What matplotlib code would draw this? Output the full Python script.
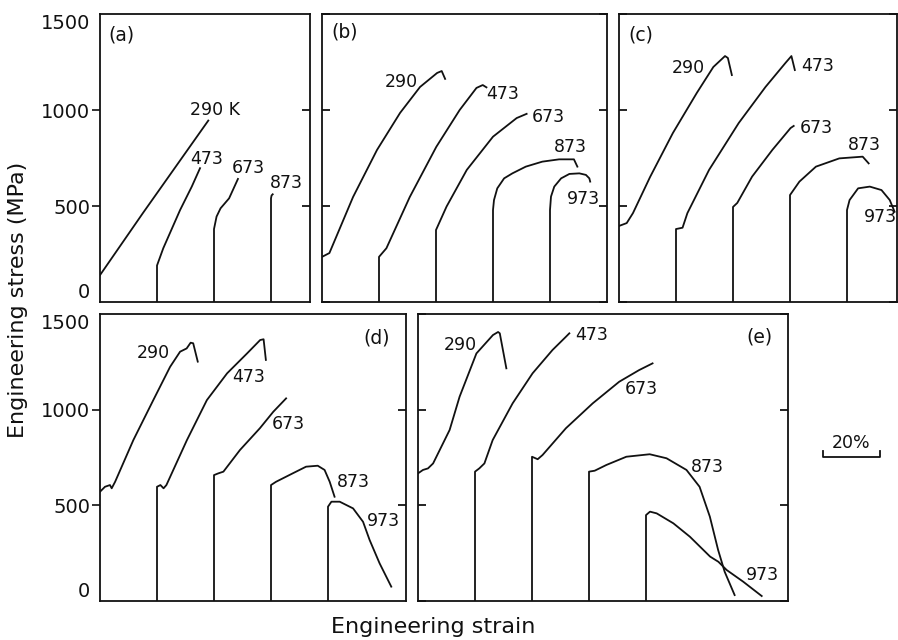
import numpy as np
import matplotlib.pyplot as plt

plt.rcParams['font.family'] = ['DejaVu Sans']

# stress-strain curves, strain in % measured from each curve's own origin,
# stress in MPa. Each curve is shifted by its offset (in % strain).
temps = ["290", "473", "673", "873", "973"]
offsets = [0, 20, 40, 60, 80]

a_strain = [[0, 15, 38],
            [0, 0, 2.2, 8.1, 12.2, 15.1],
            [0, 0, 0.9, 2.3, 5.3, 8.4],
            [0, 0, 0.2, 0.6]]
a_stress = [[140, 462, 945],
            [0, 190, 280, 479, 601, 697],
            [0, 380, 445, 488, 540, 641],
            [0, 540, 555, 561]]

b_strain = [[0, 2.6, 10.9, 19.3, 27.4, 34.4, 40.4, 42, 43.2],
            [0, 0, 2.6, 10.8, 20.1, 28.3, 34.2, 36.4, 37.7],
            [0, 0, 3.7, 10.8, 20, 28.3, 31.8],
            [0, 0, 0.35, 1.5, 3.9, 6.8, 11.5, 17.3, 23.2, 28.4, 29.6],
            [0, 0, 0.35, 1.5, 3.9, 6.8, 10.3, 12.6, 13.8, 14.1]]
b_stress = [[235, 255, 547, 792, 985, 1120, 1193, 1203, 1162],
            [0, 235, 280, 547, 808, 1000, 1115, 1130, 1118],
            [0, 375, 497, 688, 861, 958, 980],
            [0, 479, 531, 592, 644, 670, 705, 731, 743, 743, 705],
            [0, 479, 549, 601, 644, 667, 670, 662, 644, 627]]

c_strain = [[0, 2.7, 4.9, 10.9, 18.9, 27.3, 33.1, 37.2, 38.2, 39.6],
            [0, 0, 2.3, 4, 11.6, 22, 31.4, 38.4, 40.5, 41.7],
            [0, 0, 1.5, 6.7, 13.8, 20.2, 21.3],
            [0, 0, 3.3, 9.1, 17.3, 25.5, 27.6],
            [0, 0, 0.9, 3.9, 8, 12.1, 15, 16.7]]
c_stress = [[396, 411, 463, 651, 880, 1089, 1224, 1281, 1271, 1182],
            [0, 380, 387, 463, 688, 932, 1120, 1245, 1281, 1208],
            [0, 495, 516, 653, 792, 906, 917],
            [0, 557, 627, 705, 748, 757, 722],
            [0, 479, 531, 592, 601, 583, 531, 470]]

d_strain = [[0, 1.75, 3.5, 4.1, 5.3, 11.7, 18.7, 24.6, 28.1, 30.4, 31.8, 32.7, 34.3],
            [0, 0, 1.2, 2.3, 3.3, 10.5, 17.5, 24.6, 31.6, 36.2, 37.4, 38.2],
            [0, 0, 1.5, 3.3, 9.1, 16.1, 20.8, 25.3],
            [0, 0, 1.75, 7.6, 12.3, 16.4, 18.8, 20.6, 22.3],
            [0, 0, 1.2, 4.1, 8.8, 12.3, 14.6, 18.1, 22.2]]
d_stress = [[571, 597, 606, 589, 623, 841, 1050, 1224, 1303, 1320, 1350, 1347, 1251],
            [0, 597, 606, 589, 606, 841, 1050, 1190, 1294, 1364, 1368, 1260],
            [0, 658, 667, 676, 789, 903, 989, 1059],
            [0, 606, 623, 667, 702, 707, 685, 623, 545],
            [0, 493, 519, 519, 484, 414, 319, 197, 75]]

e_strain = [[0, 1.75, 3.5, 5.3, 11.1, 14.6, 20.5, 26.3, 28.1, 28.7, 31],
            [0, 0, 1.5, 3.3, 6.2, 13.2, 20.2, 27.2, 31.9, 33.1],
            [0, 0, 2, 3.7, 11.9, 21.3, 30.6, 37.6, 42.3],
            [0, 0, 2, 6.1, 13.1, 21.3, 27.2, 34.2, 38.8, 42.4, 45.3, 47.6, 51.1],
            [0, 0, 1.4, 3.75, 9.6, 15.4, 22.5, 25.4, 28.3, 34.1, 40.6]]
e_stress = [[667, 685, 693, 719, 894, 1068, 1294, 1390, 1406, 1399, 1216],
            [0, 676, 693, 719, 841, 1033, 1190, 1312, 1381, 1399],
            [0, 754, 741, 763, 903, 1033, 1146, 1207, 1242],
            [0, 676, 681, 711, 754, 767, 746, 685, 597, 441, 267, 153, 31],
            [0, 449, 467, 458, 406, 336, 232, 205, 162, 101, 26]]

a_labels = ["290 K", "473", "673", "873"]
scale_len = 20  # % strain of the scale bar

# label positions (strain %, stress MPa) in each panel
a_lpos = [(40.5, 1000), (37.5, 746), (52.1, 697), (65.4, 618)]
b_lpos = [(27.7, 1148), (63.5, 1084), (79.3, 966), (87, 809), (91.9, 535)]
c_lpos = [(24.2, 1217), (69.6, 1227), (69.4, 905), (86, 818), (91.9, 444)]
d_lpos = [(18.8, 1294), (52, 1172), (66, 925), (89, 624), (99.6, 420)]
e_lpos = [(14.8, 1338), (60.8, 1390), (78.4, 1106), (101.6, 702), (121, 136)]

W, H = 898, 640
fig = plt.figure(figsize=(W / 100, H / 100), dpi=100)
PXS = 2.85  # pixels per % strain


def panel(left, top, right, bottom, strains, stresses, labels, lpos, tag, tagpos, ticklabels):
    ax = fig.add_axes([left / W, 1 - bottom / H, (right - left) / W, (bottom - top) / H])
    for off, s, st in zip(offsets, strains, stresses):
        ax.plot(off + np.array(s), st, color='#111111', lw=1.3)
    for lab, (x, y) in zip(labels, lpos):
        ax.text(x, y, lab, ha='center', va='center', fontsize=12.5, color='#111111')
    ax.text(tagpos[0], tagpos[1], tag, ha='center', va='center', fontsize=13.5, color='#111111')
    ax.set_xlim(0, (right - left) / PXS)
    ax.set_ylim(0, 1500)
    ax.set_xticks([])
    ax.set_yticks([0, 500, 1000, 1500])
    for sp in ax.spines.values():
        sp.set_linewidth(1.3)
        sp.set_color('#111111')
    if ticklabels:
        ax.tick_params(axis='y', direction='out', length=6, width=1.2, pad=1,
                       labelsize=14, colors='#111111')
        tl = ax.get_yticklabels()
        tl[0].set_va('bottom')
        tl[-1].set_va('top')
        ticks = ax.yaxis.get_major_ticks()
        ticks[0].tick1line.set_visible(False)
        ticks[-1].tick1line.set_visible(False)
        sec = ax.secondary_yaxis('right')
        sec.set_yticks([500, 1000])
        sec.set_yticklabels([])
        sec.tick_params(direction='in', length=6, width=1.2)
        sec.spines['right'].set_visible(False)
    else:
        ax.tick_params(axis='y', direction='in', length=6, width=1.2,
                       left=True, right=True, labelleft=False)
    return ax


panel(100, 14, 310, 302, a_strain, a_stress, a_labels, a_lpos, "(a)", (7.6, 1391), True)
panel(322, 14, 607, 302, b_strain, b_stress, temps, b_lpos, "(b)", (8.1, 1408), False)
panel(619, 14, 897, 302, c_strain, c_stress, temps, c_lpos, "(c)", (7.7, 1391), False)
panel(100, 314, 406, 601, d_strain, d_stress, temps, d_lpos, "(d)", (97, 1373), True)
ax_e = panel(418, 314, 788, 601, e_strain, e_stress, temps, e_lpos, "(e)", (119.8, 1381), False)

# 20 % scale bar next to panel (e)
x0 = 142
ax_e.plot([x0, x0, x0 + scale_len, x0 + scale_len], [784, 753, 753, 784],
          color='#111111', lw=1.3, clip_on=False)
ax_e.text(x0 + scale_len / 2, 826, "20%", ha='center', va='center', fontsize=12.5,
          color='#111111')

fig.text(18 / W, 1 - 300 / H, "Engineering stress (MPa)", rotation=90,
         ha='center', va='center', fontsize=16, color='#111111')
fig.text(433 / W, 1 - 627 / H, "Engineering strain", ha='center', va='center',
         fontsize=16, color='#111111')

fig.savefig('out.png', dpi=100)
